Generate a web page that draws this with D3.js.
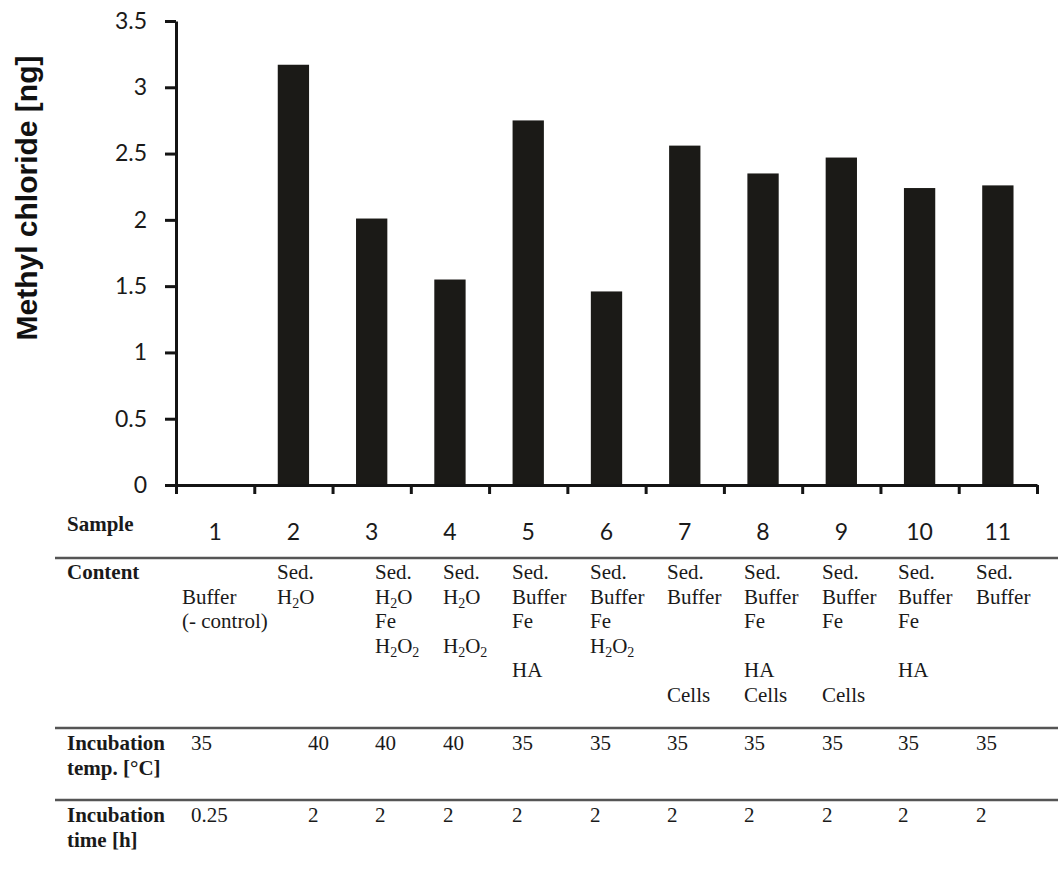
<!DOCTYPE html>
<html>
<head>
<meta charset="utf-8">
<script src="https://cdn.jsdelivr.net/npm/d3@7"></script>
<style>
  html, body { margin: 0; padding: 0; background: #ffffff; }
  svg { display: block; }
</style>
</head>
<body>
<svg id="chart" width="1058" height="869"></svg>
<script>
// ---- data ----
const samples = ["1", "2", "3", "4", "5", "6", "7", "8", "9", "10", "11"];
const methylChloride = [0, 3.17, 2.01, 1.55, 2.75, 1.46, 2.56, 2.35, 2.47, 2.24, 2.26];
const yTicks = [0, 0.5, 1, 1.5, 2, 2.5, 3, 3.5];
const yTitle = "Methyl chloride [ng]";

// Content of each sample, one slot per line (Sed., medium, Fe, H2O2, HA, Cells)
const content1 = ["", "Buffer", "(- control)", "", "", ""];
const content2 = ["Sed.", "H2O", "", "", "", ""];
const content3 = ["Sed.", "H2O", "Fe", "H2O2", "", ""];
const content4 = ["Sed.", "H2O", "", "H2O2", "", ""];
const content5 = ["Sed.", "Buffer", "Fe", "", "HA", ""];
const content6 = ["Sed.", "Buffer", "Fe", "H2O2", "", ""];
const content7 = ["Sed.", "Buffer", "", "", "", "Cells"];
const content8 = ["Sed.", "Buffer", "Fe", "", "HA", "Cells"];
const content9 = ["Sed.", "Buffer", "Fe", "", "", "Cells"];
const content10 = ["Sed.", "Buffer", "Fe", "", "HA", ""];
const content11 = ["Sed.", "Buffer", "", "", "", ""];
const contents = [content1, content2, content3, content4, content5, content6,
                  content7, content8, content9, content10, content11];

const incubationTemp = ["35", "40", "40", "40", "35", "35", "35", "35", "35", "35", "35"];
const incubationTime = ["0.25", "2", "2", "2", "2", "2", "2", "2", "2", "2", "2"];

const rowHeaders = [
  { lines: ["Sample"], y: 531 },
  { lines: ["Content"], y: 579 },
  { lines: ["Incubation", "temp. [°C]"], y: 750 },
  { lines: ["Incubation", "time [h]"], y: 822 }
];

// ---- layout ----
const plot = { left: 176, right: 1037, top: 21, bottom: 485 };
const contentX = [182, 277, 375, 443, 512, 590, 667, 744, 822, 898, 976];
const conditionX = [191, 308, 375, 443, 512, 590, 667, 744, 822, 898, 976];
const tableLeft = 55, tableRight = 1058;
const ruleY = [558, 728, 800];
const contentTop = 579, contentStep = 24.5;
const serif = "'Liberation Serif', 'Times New Roman', serif";
const sans = "Lato, 'Open Sans', sans-serif";
const ink = "#141414";

const svg = d3.select("#chart");

// ---- scales ----
const x = d3.scaleBand()
  .domain(samples)
  .range([plot.left, plot.right])
  .paddingInner(0.6)
  .paddingOuter(0.3);

const xEdge = d3.scaleLinear()
  .domain([0, samples.length])
  .range([plot.left, plot.right]);

const y = d3.scaleLinear()
  .domain([0, 3.5])
  .range([plot.bottom, plot.top]);

// ---- bars ----
svg.append("g")
  .selectAll("rect")
  .data(samples.map((s, i) => ({ s, v: methylChloride[i] })))
  .join("rect")
  .attr("x", d => x(d.s))
  .attr("width", x.bandwidth())
  .attr("y", d => y(d.v))
  .attr("height", d => y(0) - y(d.v))
  .attr("fill", "#1b1a17");

// ---- y axis ----
const yAxis = svg.append("g")
  .attr("transform", `translate(${plot.left},0)`)
  .call(d3.axisLeft(y)
    .tickValues(yTicks)
    .tickFormat(d => String(d))
    .tickSize(11)
    .tickSizeOuter(0)
    .tickPadding(18));
yAxis.select(".domain").attr("stroke", ink).attr("stroke-width", 3);
yAxis.selectAll(".tick line").attr("stroke", ink).attr("stroke-width", 3);
yAxis.selectAll(".tick text")
  .attr("font-family", sans)
  .attr("font-size", 23)
  .attr("fill", "#1a1a1a");

// ---- x axis: boundary ticks ----
const xAxis = svg.append("g")
  .attr("transform", `translate(0,${plot.bottom})`)
  .call(d3.axisBottom(xEdge)
    .tickValues(d3.range(samples.length + 1))
    .tickFormat("")
    .tickSize(9)
    .tickSizeOuter(0));
xAxis.select(".domain").attr("stroke", ink).attr("stroke-width", 3);
xAxis.selectAll(".tick line").attr("stroke", ink).attr("stroke-width", 3);

// ---- x axis: sample numbers ----
const xLabels = svg.append("g")
  .attr("transform", `translate(0,${plot.bottom})`)
  .call(d3.axisBottom(x).tickSize(0).tickPadding(39));
xLabels.select(".domain").remove();
xLabels.selectAll(".tick text")
  .attr("font-family", sans)
  .attr("font-size", 23)
  .attr("fill", "#1a1a1a");

// ---- y title ----
svg.append("text")
  .attr("transform", "translate(37,198) rotate(-90)")
  .attr("text-anchor", "middle")
  .attr("font-family", "'Liberation Sans', Arial, sans-serif")
  .attr("font-weight", "bold")
  .attr("font-size", 30)
  .attr("fill", "#111")
  .text(yTitle);

// ---- table rules ----
svg.append("g")
  .selectAll("line")
  .data(ruleY)
  .join("line")
  .attr("x1", tableLeft)
  .attr("x2", tableRight)
  .attr("y1", d => d)
  .attr("y2", d => d)
  .attr("stroke", "#555")
  .attr("stroke-width", 2.5);

// ---- row headers ----
const headers = svg.append("g")
  .attr("font-family", serif)
  .attr("font-weight", "bold")
  .attr("font-size", 21)
  .attr("fill", "#1a1a1a");
rowHeaders.forEach(h => {
  h.lines.forEach((line, k) => {
    headers.append("text")
      .attr("x", 67)
      .attr("y", h.y + k * 25)
      .text(line);
  });
});

// Writes a chemical formula with the digits lowered as subscripts
function formula(sel, str) {
  const parts = str.match(/[0-9]+|[^0-9]+/g) || [];
  const isFormula = /^[A-Z][A-Za-z]*[0-9]/.test(str);
  if (!isFormula) { sel.text(str); return; }
  let lowered = false;
  parts.forEach(p => {
    const digit = /^[0-9]+$/.test(p);
    const t = sel.append("tspan").text(p);
    if (digit && !lowered) { t.attr("dy", 4).attr("font-size", 14); lowered = true; }
    else if (digit) { t.attr("font-size", 14); }
    else if (lowered) { t.attr("dy", -4); lowered = false; }
  });
}

// ---- content cells ----
const cells = svg.append("g")
  .attr("font-family", serif)
  .attr("font-size", 21)
  .attr("fill", "#1a1a1a");
contents.forEach((col, i) => {
  col.forEach((entry, k) => {
    if (!entry) return;
    const t = cells.append("text")
      .attr("x", contentX[i])
      .attr("y", contentTop + k * contentStep);
    formula(t, entry);
  });
});

// ---- incubation conditions ----
const conds = svg.append("g")
  .attr("font-family", serif)
  .attr("font-size", 21)
  .attr("fill", "#1a1a1a");
conds.selectAll("text.temp")
  .data(incubationTemp)
  .join("text")
  .attr("class", "temp")
  .attr("x", (d, i) => conditionX[i])
  .attr("y", rowHeaders[2].y)
  .text(d => d);
conds.selectAll("text.time")
  .data(incubationTime)
  .join("text")
  .attr("class", "time")
  .attr("x", (d, i) => conditionX[i])
  .attr("y", rowHeaders[3].y)
  .text(d => d);
</script>
</body>
</html>
